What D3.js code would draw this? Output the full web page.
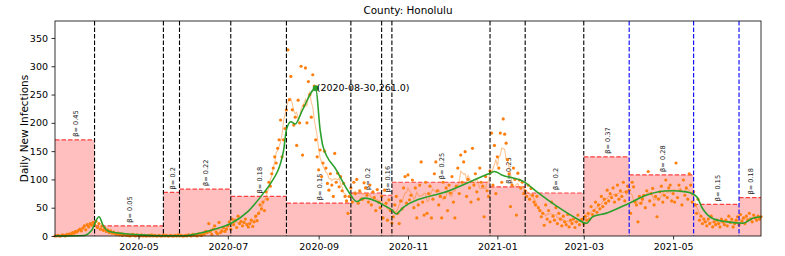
<!DOCTYPE html>
<html>
<head>
<meta charset="utf-8">
<script src="https://cdn.jsdelivr.net/npm/d3@7"></script>
<style>
body { margin: 0; background: #fff; }
svg { font-family: "DejaVu Sans", sans-serif; }
.axis path { display: none; }
.axis line { stroke: #000; stroke-width: 0.8; }
.axis text { font-size: 9.5px; fill: #000; font-family: "DejaVu Sans", sans-serif; }
</style>
</head>
<body>
<div id="chart"></div>
<script>
///////////////////////////////////////////////////////////////////////////////
//// Data /////////////////////////////////////////////////////////////////////
///////////////////////////////////////////////////////////////////////////////
// Daily new infections, one array per month (first one starts 2020-03-05)
const mar20 = [0,0,1,0,0,2,1,0,3,2,4,3,6,5,8,7,10,12,9,14,18,11,20,16,22,19,24];
const apr20 = [20,26,15,22,12,18,10,14,8,11,6,9,5,7,4,3,5,2,4,1,3,2,1,2,0,1,3,1,0,2];
const may20 = [1,0,2,0,1,0,0,1,0,2,0,1,0,0,1,0,0,2,0,1,0,0,1,0,0,1,0,2,0,1,0];
const jun20 = [0,1,0,2,1,0,3,1,2,0,4,2,1,5,3,8,6,22,8,3,12,18,7,4,24,6,9,15,8,12];
const jul20 = [18,25,12,30,20,28,15,35,22,26,18,24,30,20,16,22,28,17,25,35,27,40,55,48,60,45,78,65,95,88,110];
const aug20 = [120,140,129,155,170,205,140,170,190,223,329,241,282,223,196,210,160,240,200,300,143,230,297,200,273,250,210,285,265,170,140];
const sep20 = [117,152,105,129,150,120,93,81,110,90,70,146,95,111,87,105,80,93,70,62,40,70,85,60,95,75,100,58,80,65];
const oct20 = [65,94,85,72,60,90,55,78,68,45,82,60,50,70,32,81,58,28,64,45,23,34,55,70,40,22,62,48,85,105,58];
const nov20 = [108,64,72,99,50,85,32,55,90,131,60,37,95,40,75,88,32,65,110,131,80,55,70,32,95,68,85,45,90,76];
const dec20 = [105,60,32,88,120,75,143,95,131,149,70,100,85,60,155,90,110,78,65,120,95,88,34,105,80,70,115,182,90,160,75];
const jan21 = [140,120,182,95,207,180,164,135,110,52,90,120,100,37,111,99,85,95,75,80,70,90,65,84,72,60,55,70,50,45,34];
const feb21 = [40,19,55,30,45,25,60,35,28,50,22,40,30,18,35,25,20,38,16,28,22,30,15,25,37,20,28,30];
const mar21 = [22,35,28,40,30,52,38,45,60,42,55,48,70,52,65,58,81,62,75,68,85,60,72,90,65,80,70,95,62,78,88];
const apr21 = [81,40,95,87,60,55,25,70,58,65,72,50,80,114,62,75,84,55,70,34,65,78,88,60,72,99,68,85,90,62];
const may21 = [75,60,129,68,90,80,55,99,72,85,65,110,90,60,78,55,40,65,28,35,22,30,25,18,30,22,35,16,25,20,28];
const jun21 = [22,16,30,25,20,28,18,35,24,30,16,22,28,34,20,38,26,32,22,35,28,40,30,25,37,32,28,35,30,34];

const monthStarts = ["2020-03-05", "2020-04-01", "2020-05-01", "2020-06-01", "2020-07-01", "2020-08-01",
	"2020-09-01", "2020-10-01", "2020-11-01", "2020-12-01", "2021-01-01", "2021-02-01",
	"2021-03-01", "2021-04-01", "2021-05-01", "2021-06-01"];
const monthValues = [mar20, apr20, may20, jun20, jul20, aug20, sep20, oct20, nov20, dec20,
	jan21, feb21, mar21, apr21, may21, jun21];

// Change points of the transmission rate, and fitted beta for each segment
const breakDates = ["2020-04-01", "2020-05-18", "2020-05-29", "2020-07-03", "2020-08-10", "2020-09-23",
	"2020-10-14", "2020-10-21", "2020-12-27", "2021-01-20", "2021-03-01", "2021-04-01",
	"2021-05-15", "2021-06-15"];
const segmentHeights = [170, 18, 77, 83, 70, 58, 76, 72, 95, 87, 76, 140, 108, 56, 68];
const betas = ["0.45", "0.05", "0.2", "0.22", "0.18", "0.15", "0.2", "0.16", "0.25", "0.23", "0.2",
	"0.37", "0.28", "0.15", "0.18"];

// Model fit (green curve)
const fitDates = ["2020-03-05", "2020-03-25", "2020-03-30", "2020-04-04", "2020-04-07", "2020-04-11",
	"2020-04-22", "2020-05-02", "2020-05-18", "2020-06-02", "2020-06-10", "2020-06-22", "2020-07-03",
	"2020-07-15", "2020-07-26", "2020-07-30", "2020-08-08", "2020-08-10", "2020-08-13", "2020-08-16",
	"2020-08-21", "2020-08-30", "2020-09-02", "2020-09-04", "2020-09-13", "2020-09-22", "2020-09-27",
	"2020-10-02", "2020-10-13", "2020-10-15", "2020-10-21", "2020-10-24", "2020-10-26", "2020-10-29",
	"2020-11-29", "2020-12-27", "2020-12-30", "2021-01-04", "2021-01-19", "2021-01-28", "2021-02-11",
	"2021-02-24", "2021-03-03", "2021-03-07", "2021-03-16", "2021-04-01", "2021-04-13", "2021-04-29",
	"2021-05-10", "2021-05-17", "2021-05-21", "2021-05-28", "2021-06-07", "2021-06-18", "2021-06-24",
	"2021-06-30"];
const fitValues = [0, 1, 10, 34, 18, 8, 4, 2, 0.5, 0.5, 4, 12, 22, 44, 78, 92, 150, 188, 202, 198,
	223, 261, 188, 158, 117, 76, 61, 67, 58, 55, 46, 39, 43, 51, 80, 111, 114, 108, 96, 78, 52, 31,
	22.5, 34, 40, 58, 72.6, 80, 78, 69.6, 49, 31, 25, 22.5, 31, 34];

const peakDate = "2020-08-30";
const peakValue = 261.0;
const yTicks = [0, 50, 100, 150, 200, 250, 300, 350];

///////////////////////////////////////////////////////////////////////////////
//// Set Up ///////////////////////////////////////////////////////////////////
///////////////////////////////////////////////////////////////////////////////
const margin = {top: 21, right: 24, bottom: 20, left: 55};
const width = 785 - margin.left - margin.right;
const height = 256 - margin.top - margin.bottom;

const parse = d3.utcParse("%Y-%m-%d");
const dayMs = 864e5;

const daily = [];
monthStarts.forEach((m, i) => {
	const t0 = parse(m);
	monthValues[i].forEach((v, j) => daily.push({date: new Date(+t0 + j * dayMs), value: v}));
});

// centred 7-day average
const rolling = daily.map((d, i) => {
	const win = daily.slice(Math.max(0, i - 3), Math.min(daily.length, i + 4));
	return {date: d.date, value: d3.mean(win, e => e.value)};
});

const startDate = parse("2020-03-05");
const endDate = parse("2021-06-30");

const x = d3.scaleUtc().domain([startDate, endDate]).range([0, width]);
const y = d3.scaleLinear().domain([0, 380]).range([height, 0]);

const svg = d3.select("#chart").append("svg")
	.attr("width", 785)
	.attr("height", 256);

const g = svg.append("g")
	.attr("transform", `translate(${margin.left}, ${margin.top})`);

///////////////////////////////////////////////////////////////////////////////
//// Segments /////////////////////////////////////////////////////////////////
///////////////////////////////////////////////////////////////////////////////
const edges = [startDate, ...breakDates.map(parse), endDate];
const segments = segmentHeights.map((h, i) => ({x0: edges[i], x1: edges[i + 1], h: h, beta: betas[i]}));

g.selectAll(".seg")
	.data(segments)
	.enter().append("rect")
		.attr("class", "seg")
		.attr("x", d => x(d.x0))
		.attr("y", d => y(d.h))
		.attr("width", d => x(d.x1) - x(d.x0))
		.attr("height", d => y(0) - y(d.h))
		.style("fill", "#ffbfbf");

g.selectAll(".seg-top")
	.data(segments)
	.enter().append("line")
		.attr("class", "seg-top")
		.attr("x1", d => x(d.x0))
		.attr("x2", d => x(d.x1))
		.attr("y1", d => y(d.h))
		.attr("y2", d => y(d.h))
		.style("stroke", "#ff4040")
		.style("stroke-width", 1.2)
		.style("stroke-dasharray", "4.5,2");

g.selectAll(".beta")
	.data(segments)
	.enter().append("text")
		.attr("class", "beta")
		.attr("transform", d => `translate(${(x(d.x0) + x(d.x1)) / 2 + 1}, ${y(d.h) - 3}) rotate(-90)`)
		.attr("dy", "0.35em")
		.style("font-size", "6.6px")
		.style("fill", "#222")
		.text(d => "β= " + d.beta);

///////////////////////////////////////////////////////////////////////////////
//// Data marks ///////////////////////////////////////////////////////////////
///////////////////////////////////////////////////////////////////////////////
g.selectAll(".dot")
	.data(daily)
	.enter().append("circle")
		.attr("class", "dot")
		.attr("cx", d => x(d.date))
		.attr("cy", d => y(d.value))
		.attr("r", 1.6)
		.style("fill", "#ff7f0e");

g.append("path")
	.datum(rolling)
	.attr("d", d3.line().x(d => x(d.date)).y(d => y(d.value)))
	.style("fill", "none")
	.style("stroke", "#ff7f0e")
	.style("stroke-opacity", 0.45)
	.style("stroke-width", 1.1);

// change point lines
const blueFrom = parse("2021-04-01");
g.selectAll(".vline")
	.data(breakDates.map(parse))
	.enter().append("line")
		.attr("class", "vline")
		.attr("x1", d => x(d))
		.attr("x2", d => x(d))
		.attr("y1", 0)
		.attr("y2", height)
		.style("stroke", d => d >= blueFrom ? "#0000ff" : "#000")
		.style("stroke-width", 1.1)
		.style("stroke-dasharray", "4.5,2");

const fit = fitDates.map((d, i) => ({date: parse(d), value: fitValues[i]}));
g.append("path")
	.datum(fit)
	.attr("d", d3.line().x(d => x(d.date)).y(d => y(d.value)).curve(d3.curveMonotoneX))
	.style("fill", "none")
	.style("stroke", "#2ca02c")
	.style("stroke-width", 1.6);

// peak annotation
g.append("circle")
	.attr("cx", x(parse(peakDate)))
	.attr("cy", y(peakValue))
	.attr("r", 3)
	.style("fill", "#2ca02c");

g.append("text")
	.attr("x", x(parse(peakDate)) + 1)
	.attr("y", y(peakValue) + 3)
	.style("font-size", "9.5px")
	.style("fill", "#000")
	.text(`(${peakDate},${peakValue.toFixed(1)})`);

///////////////////////////////////////////////////////////////////////////////
//// Axes /////////////////////////////////////////////////////////////////////
///////////////////////////////////////////////////////////////////////////////
g.append("g")
	.attr("class", "axis")
	.call(d3.axisLeft(y).tickValues(yTicks).tickSize(3.5).tickPadding(3.5));

g.append("g")
	.attr("class", "axis")
	.attr("transform", `translate(0, ${height})`)
	.call(d3.axisBottom(x).ticks(d3.utcMonth.every(2)).tickFormat(d3.utcFormat("%Y-%m"))
		.tickSize(3.5).tickPadding(3.5));

g.append("rect")
	.attr("width", width)
	.attr("height", height)
	.style("fill", "none")
	.style("stroke", "#000")
	.style("stroke-width", 0.8);

g.append("text")
	.attr("x", width / 2)
	.attr("y", -7)
	.style("text-anchor", "middle")
	.style("font-size", "10.4px")
	.text("County: Honolulu");

g.append("text")
	.attr("transform", `translate(${24 - margin.left}, ${height / 2}) rotate(-90)`)
	.attr("dy", "0.35em")
	.style("text-anchor", "middle")
	.style("font-size", "10.5px")
	.text("Daily New Infections");
</script>
</body>
</html>
